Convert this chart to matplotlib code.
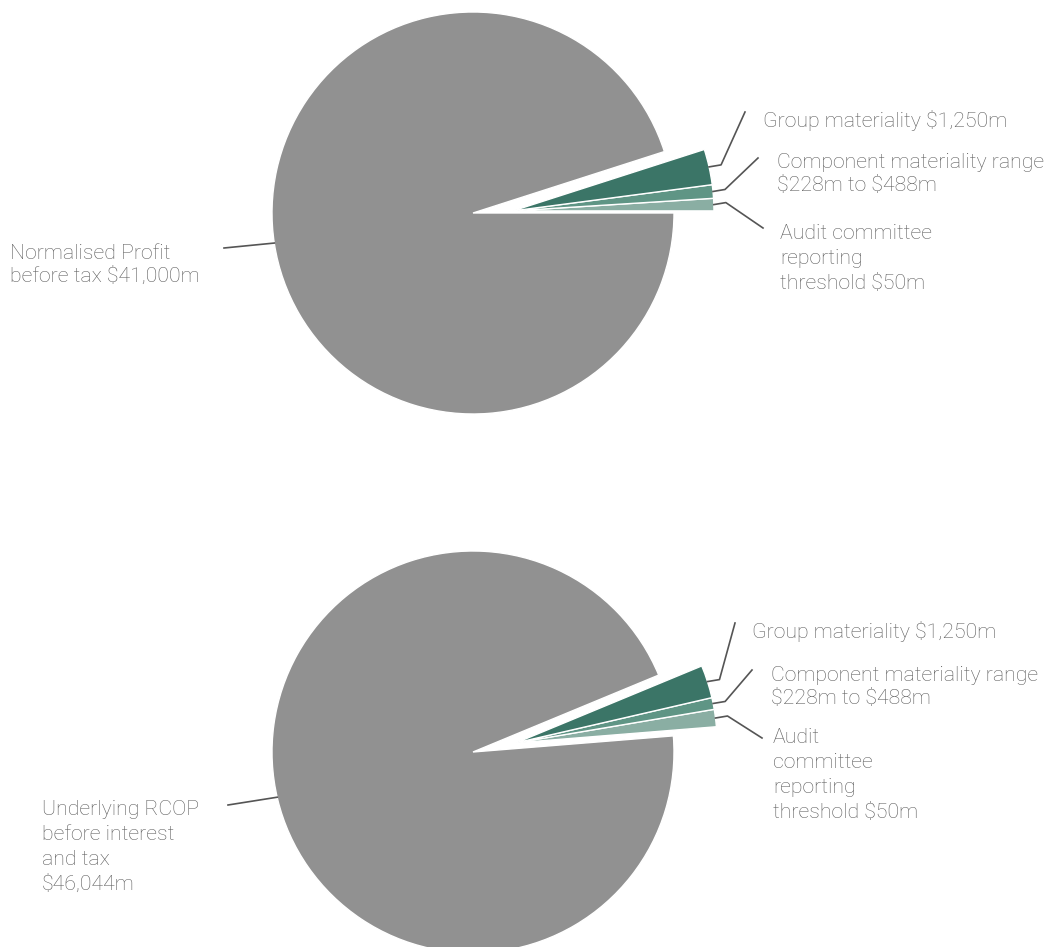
import numpy as np
import matplotlib
matplotlib.use("Agg")
import matplotlib.pyplot as plt

plt.rcParams['font.family'] = ['Roboto', 'DejaVu Sans']
plt.rcParams['text.parse_math'] = False

W, H = 1049, 947

# slice sizes as drawn (degrees of the circle), small slices first
slice_names = ["audit", "component", "group", "profit"]
top_sizes = [3.6, 3.9, 10.3, 342.2]
bottom_sizes = [5.0, 3.4, 9.5, 342.1]
top_start = 0.0
bottom_start = 4.6

top_labels = ["Audit committee\nreporting\nthreshold $50m",
              "Component materiality range\n$228m to $488m",
              "Group materiality $1,250m",
              "Normalised Profit\nbefore tax $41,000m"]
bottom_labels = ["Audit\ncommittee\nreporting\nthreshold $50m",
                 "Component materiality range\n$228m to $488m",
                 "Group materiality $1,250m",
                 "Underlying RCOP\nbefore interest\nand tax\n$46,044m"]

colors = ["#8aaea3", "#5f9585", "#3b7567", "#919191"]

fig = plt.figure(figsize=(W / 100, H / 100), dpi=100)
ax = fig.add_axes([0, 0, 1, 1])

txt_color = "#5c5c5c"
line_color = "#555555"
fs = 15.3


def draw(sizes, start, labels, center, shift, text_pos, line_end, big_angle, lsp):
    wedges, _ = ax.pie(sizes, colors=colors, startangle=start, counterclock=True,
                       radius=201, center=center,
                       wedgeprops=dict(edgecolor="white", linewidth=1.0))
    # pull the three small slices out together
    d, ang = shift
    c2 = (center[0] + d * np.cos(np.deg2rad(ang)), center[1] + d * np.sin(np.deg2rad(ang)))
    for i in range(3):
        w = wedges[i]
        w.set_center(c2)
        a = np.deg2rad((w.theta1 + w.theta2) / 2)
        sx = c2[0] + w.r * np.cos(a)
        sy = c2[1] + w.r * np.sin(a)
        ex, ey = line_end[i]
        ax.plot([sx, sx + 12, ex], [sy, sy + 2, ey], color=line_color, lw=1.2)
        ax.text(text_pos[i][0], text_pos[i][1], labels[i], color=txt_color,
                fontsize=fs, fontweight="light", va="center", ha="left",
                linespacing=lsp[i])
    # big slice label
    a = np.deg2rad(big_angle)
    sx = center[0] + 201 * np.cos(a)
    sy = center[1] + 201 * np.sin(a)
    ex, ey = line_end[3]
    ax.plot([ex, sx], [ey, sy], color=line_color, lw=1.2)
    ax.text(text_pos[3][0], text_pos[3][1], labels[3], color=txt_color,
            fontsize=fs, fontweight="light", va="center", ha="left",
            linespacing=lsp[3])


draw(top_sizes, top_start, top_labels, (473, H - 213), (40, 3),
     [(780, H - 258), (777, H - 174), (763, H - 120), (10, H - 265)],
     [(763, H - 228), (758, H - 158), (745, H - 112), (224, H - 248)],
     188.6, [1.4, 1.26, 1.26, 1.26])

draw(bottom_sizes, bottom_start, bottom_labels, (473, H - 752), (44, 12),
     [(773, H - 775), (771, H - 687), (752, H - 632), (42, H - 847)],
     [(762, H - 738), (752, H - 670), (735, H - 623), (228, H - 805)],
     193.0, [1.4, 1.26, 1.26, 1.4])

ax.set_xlim(0, W)
ax.set_ylim(0, H)
ax.set_aspect("equal")
ax.axis("off")

fig.savefig("out.png", dpi=100, facecolor="white")
